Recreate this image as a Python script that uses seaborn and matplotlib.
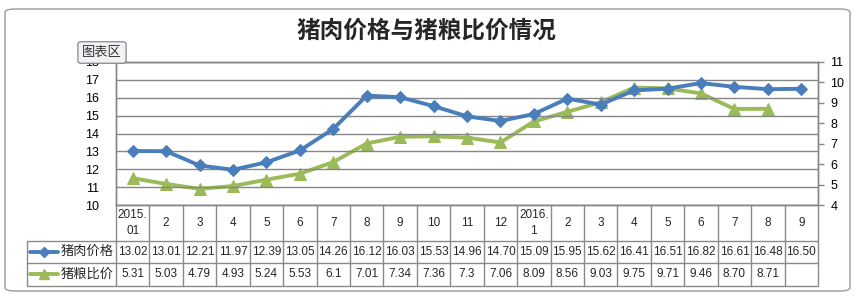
import numpy as np
import pandas as pd
import matplotlib
matplotlib.use("Agg")
import matplotlib.pyplot as plt
import matplotlib.transforms as mtransforms
from matplotlib.patches import FancyBboxPatch
from matplotlib.lines import Line2D
import seaborn as sns

# ---------------- data ----------------
months = ["2015.\n01", "2", "3", "4", "5", "6", "7", "8", "9", "10", "11", "12",
          "2016.\n1", "2", "3", "4", "5", "6", "7", "8", "9"]
pork_labels = ["13.02", "13.01", "12.21", "11.97", "12.39", "13.05", "14.26", "16.12",
               "16.03", "15.53", "14.96", "14.70", "15.09", "15.95", "15.62", "16.41",
               "16.51", "16.82", "16.61", "16.48", "16.50"]
ratio_labels = ["5.31", "5.03", "4.79", "4.93", "5.24", "5.53", "6.1", "7.01", "7.34",
                "7.36", "7.3", "7.06", "8.09", "8.56", "9.03", "9.75", "9.71", "9.46",
                "8.70", "8.71", ""]
series_names = ["猪肉价格", "猪粮比价"]
title = "猪肉价格与猪粮比价情况"
left_ticks = [10, 11, 12, 13, 14, 15, 16, 17, 18]
right_ticks = [4, 5, 6, 7, 8, 9, 10, 11]

pork = [float(v) for v in pork_labels]
ratio = [float(v) if v else np.nan for v in ratio_labels]
df = pd.DataFrame({"idx": np.arange(len(months)), "pork": pork, "ratio": ratio})

BLUE = "#4A7EBB"
GREEN = "#9BBB59"
GRID = "#868686"
TBL = "#8a8a8a"

sns.set_theme(style="white")
plt.rcParams["font.family"] = ["Liberation Sans", "Noto Sans CJK SC", "DejaVu Sans"]

W, H = 857, 296
fig = plt.figure(figsize=(W / 100, H / 100), dpi=100)
fig.patch.set_facecolor("white")

# outer rounded chart border
border = FancyBboxPatch((5 / W, 5 / H), 845 / W, 282 / H,
                        boxstyle="round,pad=0,rounding_size=0.012",
                        transform=fig.transFigure, fc="none", ec="#9a9a9a", lw=1.0,
                        zorder=-5)
fig.patches.append(border)

ax_l, ax_r, ax_t, ax_b = 116, 818, 62, 205
ax = fig.add_axes([ax_l / W, 1 - ax_b / H, (ax_r - ax_l) / W, (ax_b - ax_t) / H])
ax.set_facecolor("none")

sns.lineplot(data=df, x="idx", y="pork", ax=ax, color=BLUE, lw=2.8,
             marker="D", markersize=6.5, markeredgecolor=BLUE, legend=False, zorder=5)
ax.set_xlim(-0.5, len(months) - 0.5)
ax.set_ylim(10, 18)
ax.set_yticks(left_ticks)
ax.set_xticks([])
ax.set_xlabel("")
ax.set_ylabel("")
ax.yaxis.grid(True, color=GRID, lw=1.0)
ax.tick_params(axis="y", length=0, pad=12, labelsize=9, colors="black")
for s in ax.spines.values():
    s.set_color(GRID)
    s.set_linewidth(1.0)

ax2 = ax.twinx()
sns.lineplot(data=df, x="idx", y="ratio", ax=ax2, color=GREEN, lw=2.8,
             marker="^", markersize=8, markeredgecolor=GREEN, legend=False, zorder=4)
ax2.set_ylim(4, 11)
ax2.set_yticks(right_ticks)
ax2.set_ylabel("")
ax2.tick_params(axis="y", direction="out", length=4, width=1.0, color=GRID,
                pad=5, labelsize=9, labelcolor="black")
ax2.grid(False)
for s in ax2.spines.values():
    s.set_color(GRID)
    s.set_linewidth(1.0)
ax.set_zorder(ax2.get_zorder() + 1)
ax.patch.set_visible(False)

# ---------------- data table ----------------
trans = mtransforms.blended_transform_factory(ax.transData, ax.transAxes)
h = ax_b - ax_t
y0 = 0.0
y1 = (ax_b - 240.7) / h
y2 = (ax_b - 263.0) / h
y3 = (ax_b - 285.5) / h
n = len(months)
xleft = (27 - ax_l) / ((ax_r - ax_l) / n) - 0.5


def seg(xs, ys):
    ax.add_line(Line2D(xs, ys, transform=trans, color=TBL, lw=1.0, clip_on=False))


for k in range(n + 1):
    seg([k - 0.5, k - 0.5], [y0, y3])
for yy in (y1, y2, y3):
    seg([xleft, n - 0.5], [yy, yy])
seg([xleft, xleft], [y1, y3])

for i, m in enumerate(months):
    ax.text(i, (y0 + y1) / 2, m, transform=trans, ha="center", va="center",
            fontsize=8.5, linespacing=1.5, clip_on=False)
    ax.text(i, (y1 + y2) / 2, pork_labels[i], transform=trans, ha="center",
            va="center", fontsize=8.5, clip_on=False)
    ax.text(i, (y2 + y3) / 2, ratio_labels[i], transform=trans, ha="center",
            va="center", fontsize=8.5, clip_on=False)

px = (ax_r - ax_l) / n


def xd(pix):
    return (pix - ax_l) / px - 0.5


for row_y, name, col, mk, ms in [((y1 + y2) / 2, series_names[0], BLUE, "D", 5.5),
                                 ((y2 + y3) / 2, series_names[1], GREEN, "^", 7)]:
    ax.add_line(Line2D([xd(30), xd(58)], [row_y, row_y], transform=trans, color=col,
                       lw=2.8, clip_on=False))
    ax.add_line(Line2D([xd(44)], [row_y], transform=trans, color=col, marker=mk,
                       markersize=ms, lw=0, clip_on=False))
    ax.text(xd(61), row_y, name, transform=trans, ha="left", va="center",
            fontsize=9.5, family=["Noto Sans CJK SC", "DejaVu Sans"], clip_on=False)

# title
fig.text(426 / W, 1 - 31 / H, title, ha="center", va="center", fontsize=17,
         fontweight="bold", family=["Noto Sans CJK SC", "DejaVu Sans"])

# "图表区" tooltip
fig.text(102 / W, 1 - 52.5 / H, "图表区", ha="center", va="center", fontsize=9.5,
         family=["Noto Sans CJK SC", "DejaVu Sans"], color="#333333", zorder=20,
         bbox=dict(boxstyle="round,pad=0.32,rounding_size=0.2", fc="#f2f2f6",
                   ec="#7a7a7a", lw=0.8))

fig.savefig("out.png", dpi=100, facecolor="white")
